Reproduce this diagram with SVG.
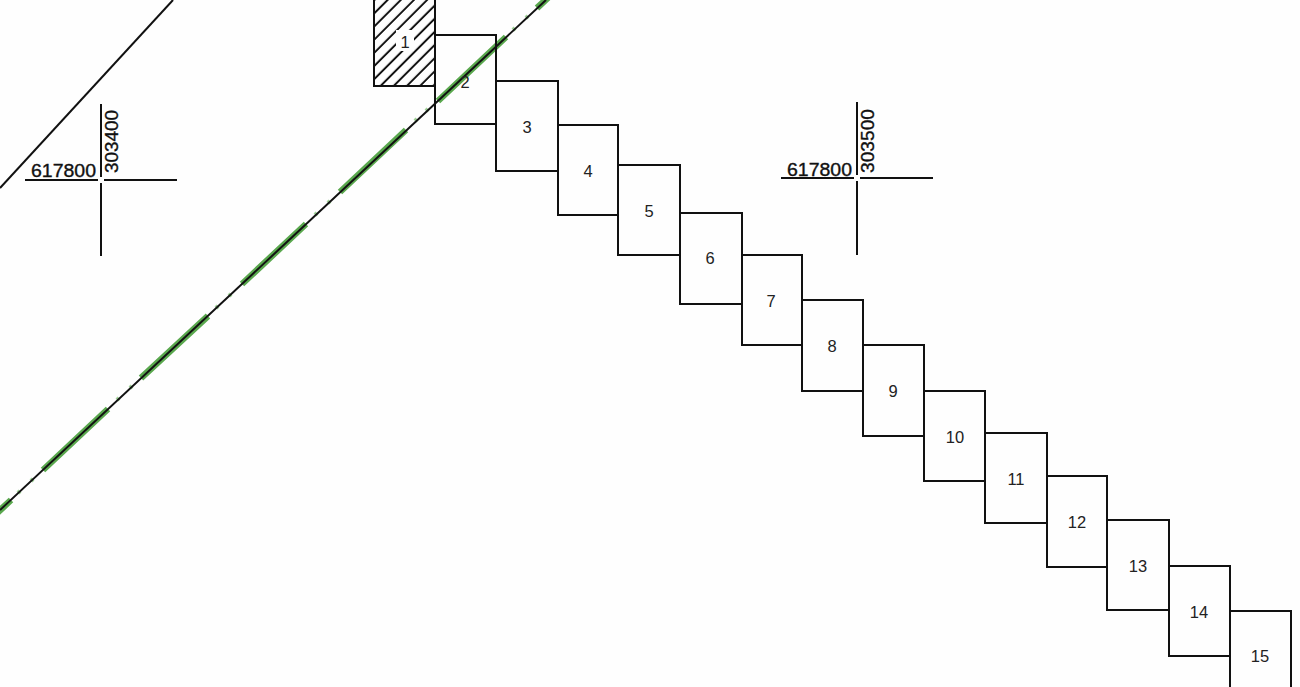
<svg xmlns="http://www.w3.org/2000/svg" width="1300" height="687" viewBox="0 0 1300 687">
<style>
.box{fill:none;stroke:#111;stroke-width:2}
.lab{font-family:"Liberation Sans",Arial,sans-serif;font-size:16.5px;fill:#222;text-anchor:middle}
.coord{font-family:"Liberation Sans",Arial,sans-serif;font-size:18px;fill:#111;stroke:#111;stroke-width:.35}
.blk{stroke:#111;stroke-width:2;fill:none}
.grn{stroke:#5aa84e;stroke-width:6.5;fill:none}
.tick{stroke:#9fd096;stroke-width:4;fill:none}
.hair{stroke:#111;stroke-width:2;fill:none}
</style>
<defs>
<pattern id="hatch" patternUnits="userSpaceOnUse" width="9.3" height="9.3" patternTransform="translate(374 86) rotate(-45)">
<line x1="0" y1="4.6" x2="9.3" y2="4.6" stroke="#111" stroke-width="2"/>
</pattern>
</defs>
<rect width="1300" height="687" fill="#fefefe"/>
<g id="connectors">
<path class="grn" d="M-5 515L11 500M43 470L108 409M141 378L208 316M242 284L306 224M340 192L406 130M438 101L506 37M537 8L552 -6"/>
<path class="tick" d="M18 493L20 491M31 481L33 479M117 400L119 398M130 388L132 386M216 308L218 306M229 296L231 294M315 215L317 213M328 203L330 201M415 121L417 119M426 111L428 109M513 30L515 28M526 18L528 16"/>
<path class="blk" d="M0 510L546 0"/>
<path class="blk" d="M0 188L173 0"/>
</g>
<g id="node-1">
<rect x="374" y="-10" width="61" height="96" fill="url(#hatch)"/>
<rect x="374" y="-10" width="61" height="96" class="box"/>
<rect x="396" y="30" width="18" height="21" fill="#fefefe"/>
<text class="lab" x="405" y="48">1</text>
</g>
<g id="node-2"><rect x="435" y="35" width="61" height="89" class="box"/><text class="lab" x="465" y="88">2</text></g>
<g id="node-3"><rect x="496" y="81" width="62" height="90" class="box"/><text class="lab" x="527" y="133">3</text></g>
<g id="node-4"><rect x="558" y="125" width="60" height="90" class="box"/><text class="lab" x="588" y="177">4</text></g>
<g id="node-5"><rect x="618" y="165" width="62" height="90" class="box"/><text class="lab" x="649" y="217">5</text></g>
<g id="node-6"><rect x="680" y="213" width="62" height="91" class="box"/><text class="lab" x="710" y="264">6</text></g>
<g id="node-7"><rect x="742" y="255" width="60" height="90" class="box"/><text class="lab" x="771" y="307">7</text></g>
<g id="node-8"><rect x="802" y="300" width="61" height="91" class="box"/><text class="lab" x="832" y="352">8</text></g>
<g id="node-9"><rect x="863" y="345" width="61" height="91" class="box"/><text class="lab" x="893" y="397">9</text></g>
<g id="node-10"><rect x="924" y="391" width="61" height="90" class="box"/><text class="lab" x="955" y="443">10</text></g>
<g id="node-11"><rect x="985" y="433" width="62" height="90" class="box"/><text class="lab" x="1016" y="485">11</text></g>
<g id="node-12"><rect x="1047" y="476" width="60" height="91" class="box"/><text class="lab" x="1077" y="528">12</text></g>
<g id="node-13"><rect x="1107" y="520" width="62" height="90" class="box"/><text class="lab" x="1138" y="572">13</text></g>
<g id="node-14"><rect x="1169" y="566" width="61" height="90" class="box"/><text class="lab" x="1199" y="618">14</text></g>
<g id="node-15"><rect x="1230" y="611" width="61" height="90" class="box"/><text class="lab" x="1260" y="662">15</text></g>
<g id="cross-303400">
<path class="hair" d="M25 180H98M104 180H177M101 104V177M101 183V256"/>
<text class="coord" x="31" y="177" textLength="65" lengthAdjust="spacingAndGlyphs">617800</text>
<text class="coord" transform="translate(118 173) rotate(-90)" textLength="63" lengthAdjust="spacingAndGlyphs">303400</text>
</g>
<g id="cross-303500">
<path class="hair" d="M781 178H854M860 178H933M857 102V175M857 181V255"/>
<text class="coord" x="787" y="176" textLength="65" lengthAdjust="spacingAndGlyphs">617800</text>
<text class="coord" transform="translate(874 173) rotate(-90)" textLength="64" lengthAdjust="spacingAndGlyphs">303500</text>
</g>
</svg>
